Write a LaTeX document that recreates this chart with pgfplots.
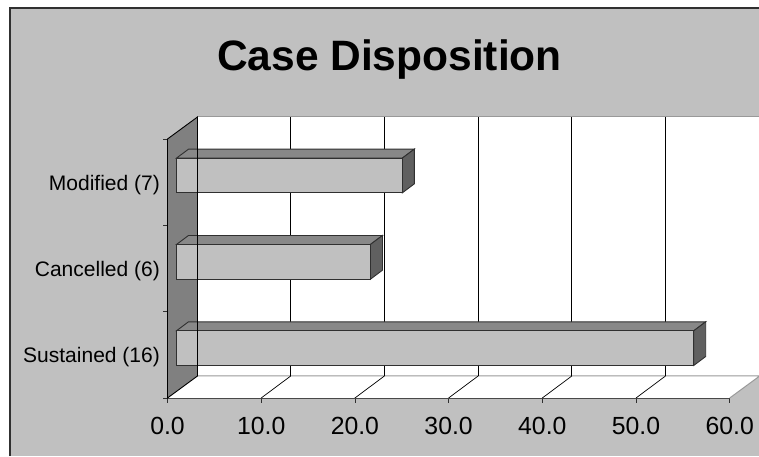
\documentclass[border=0pt]{standalone}
\usepackage{fontspec}
\setmainfont{Liberation Sans}
\usepackage{pgfplots}
\pgfplotsset{compat=1.18}
\definecolor{chartgrey}{HTML}{C0C0C0}
\definecolor{wallgrey}{HTML}{808080}
\definecolor{topgrey}{HTML}{888888}
\definecolor{sidegrey}{HTML}{606060}
\definecolor{edgegrey}{HTML}{999999}
\definecolor{darkline}{HTML}{303030}

\begin{document}
\begin{tikzpicture}[x=1pt,y=1pt]
\path[use as bounding box] (0,0) rectangle (759,456);
\fill[white] (0,0) rectangle (759,456);
\fill[chartgrey] (10,0) rectangle (759,448);
\draw[darkline,line width=1.2pt] (10,0) -- (10,448) -- (759,448);
\node[anchor=base,font=\fontsize{42.5pt}{50pt}\selectfont\bfseries] at (389.5,385) {Case Disposition};

\begin{axis}[
  at={(167.5pt,58pt)}, anchor=south west,
  scale only axis, width=562.2pt, height=259pt,
  xmin=0, xmax=60, ymin=0, ymax=3,
  clip=false,
  axis lines*=left,
  axis line style={darkline,line width=1.2pt,-},
  tick align=outside,
  major tick length=4.5pt,
  tick style={darkline,line width=0.8pt},
  xtick={0,10,...,60},
  ytick={0,1,2,3},
  yticklabels={},
  extra y ticks={0.5,1.5,2.5},
  extra y tick labels={Sustained (16),Cancelled (6),Modified (7)},
  extra y tick style={major tick length=0pt,
    yticklabel style={font=\fontsize{21pt}{24pt}\selectfont,inner sep=0pt,xshift=-7.5pt,yshift=-2.5pt}},
  xticklabel style={font=\fontsize{24.8pt}{28pt}\selectfont,inner sep=0pt,yshift=-14pt},
  /pgf/number format/assume math mode=true,
  /pgf/number format/fixed,
  /pgf/number format/fixed zerofill,
  /pgf/number format/precision=1,
]
% back wall
\addplot[fill=white,draw=none] coordinates {(3.2,0.255) (63.2,0.255) (63.2,3.255) (3.2,3.255)} --cycle;
\addplot[edgegrey,line width=1pt] coordinates {(3.2,3.255) (63.2,3.255)};
% floor
\addplot[fill=white,draw=none] coordinates {(0,0) (60,0) (63.2,0.255) (3.2,0.255)} --cycle;
\addplot[edgegrey,line width=1pt] coordinates {(3.2,0.255) (63.2,0.255) (60,0)};
% gridlines on the back wall
\addplot[ycomb,black,line width=0.8pt,no marks,xshift=29.5pt,yshift=22pt]
  coordinates {(10,3) (20,3) (30,3) (40,3) (50,3)};
% gridlines on the floor
\addplot[black,line width=0.7pt] coordinates {(10,0) (13.15,0.255)};
\addplot[black,line width=0.7pt] coordinates {(20,0) (23.15,0.255)};
\addplot[black,line width=0.7pt] coordinates {(30,0) (33.15,0.255)};
\addplot[black,line width=0.7pt] coordinates {(40,0) (43.15,0.255)};
\addplot[black,line width=0.7pt] coordinates {(50,0) (53.15,0.255)};
% side wall
\addplot[fill=wallgrey,draw=black,line width=0.9pt] coordinates {(0,0) (3.2,0.255) (3.2,3.255) (0,3)} --cycle;

% bars: top and end faces
\addplot[fill=topgrey,draw=darkline,line width=0.9pt,xshift=9pt,yshift=6.7pt]
  coordinates {(0,0.701) (55.2,0.701) (56.48,0.805) (1.28,0.805)} --cycle;
\addplot[fill=sidegrey,draw=darkline,line width=0.9pt,xshift=9pt,yshift=6.7pt]
  coordinates {(55.2,0.299) (55.2,0.701) (56.48,0.805) (56.48,0.403)} --cycle;
\addplot[fill=topgrey,draw=darkline,line width=0.9pt,xshift=9pt,yshift=6.7pt]
  coordinates {(0,1.701) (20.7,1.701) (21.98,1.805) (1.28,1.805)} --cycle;
\addplot[fill=sidegrey,draw=darkline,line width=0.9pt,xshift=9pt,yshift=6.7pt]
  coordinates {(20.7,1.299) (20.7,1.701) (21.98,1.805) (21.98,1.403)} --cycle;
\addplot[fill=topgrey,draw=darkline,line width=0.9pt,xshift=9pt,yshift=6.7pt]
  coordinates {(0,2.701) (24.1,2.701) (25.38,2.805) (1.28,2.805)} --cycle;
\addplot[fill=sidegrey,draw=darkline,line width=0.9pt,xshift=9pt,yshift=6.7pt]
  coordinates {(24.1,2.299) (24.1,2.701) (25.38,2.805) (25.38,2.403)} --cycle;
% bars: front faces
\addplot[xbar,bar width=34.7pt,bar shift=0pt,fill=chartgrey,draw=darkline,line width=0.9pt,xshift=9pt,yshift=6.7pt]
  coordinates {(55.2,0.5) (20.7,1.5) (24.1,2.5)};
% wall corner shows through the bars
\addplot[black,line width=0.8pt] coordinates {(3.2,0.255) (3.2,3.255)};
\end{axis}
\end{tikzpicture}
\end{document}
